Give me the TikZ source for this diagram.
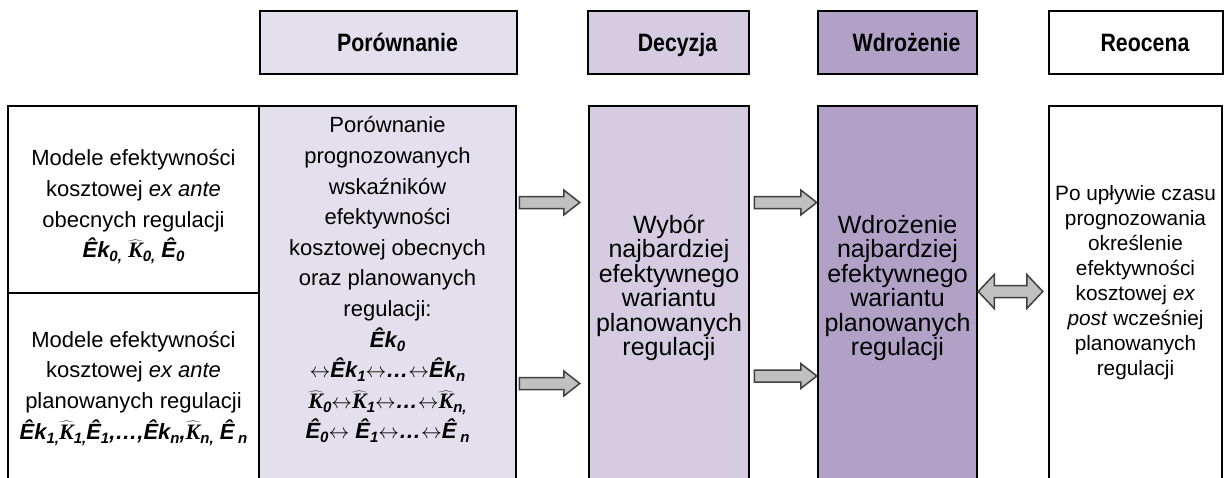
\documentclass[tikz,border=0pt]{standalone}
\usepackage{graphicx}
\usepackage{fontspec}
\setmainfont{Liberation Sans}
\newfontfamily\kfont{Liberation Serif}
\usetikzlibrary{calc}

\definecolor{porfill}{HTML}{E4DFEC}
\definecolor{decfill}{HTML}{D5CCE1}
\definecolor{wdrfill}{HTML}{B2A1C7}
\definecolor{arrowfill}{HTML}{C0C0C0}
\definecolor{arrowline}{HTML}{404040}

% fonts
\newcommand\headfont{\fontsize{21.3}{24}\selectfont\bfseries}
\newcommand\htext[1]{\hspace*{18pt}\scalebox{1}[1.18]{\vphantom{Ďy}#1}}
% a strut of 1em opens every text block, so that its north edge lies 1em above the first baseline
\newcommand\firstline{\rule{0pt}{1em}}
% symbols of the indicators
\newcommand\bi[1]{{\bfseries\itshape #1}}
\newcommand\sub[1]{\raisebox{-0.35ex}{\fontsize{15}{15}\selectfont\bfseries\itshape #1}}
\newcommand\Kh{\ensuremath{\widehat{\hbox{\kfont\bfseries\itshape K}}}}
\newcommand\lr{\ensuremath{\leftrightarrow}}

% wide block arrows between two points on one row
\newcommand\fatarrow[2]{%
  \draw[fat] let \p1=(#1), \p2=(#2) in
    (\x1,\y1+6pt) -- (\x2-16pt,\y1+6pt) -- (\x2-16pt,\y1+12.5pt) -- (\x2,\y1)
    -- (\x2-16pt,\y1-12.5pt) -- (\x2-16pt,\y1-6pt) -- (\x1,\y1-6pt) -- cycle;}
\newcommand\fatdarrow[2]{%
  \draw[fat] let \p1=(#1), \p2=(#2) in
    (\x1,\y1) -- (\x1+16pt,\y1+17pt) -- (\x1+16pt,\y1+6pt) -- (\x2-16pt,\y1+6pt)
    -- (\x2-16pt,\y1+17pt) -- (\x2,\y1) -- (\x2-16pt,\y1-17pt) -- (\x2-16pt,\y1-6pt)
    -- (\x1+16pt,\y1-6pt) -- (\x1+16pt,\y1-17pt) -- cycle;}

\tikzset{
  box/.style={draw=black, line width=2.5pt, inner sep=0pt, rectangle},
  head/.style={box, minimum height=63pt, font=\headfont},
  body/.style={align=center, inner sep=0pt, anchor=north},
  wide text/.style={body, font=\fontsize{22}{30.6}\selectfont},
  stage text/.style={body, font=\fontsize{25}{24.5}\selectfont},
  final text/.style={body, font=\fontsize{20.8}{25}\selectfont},
  fat/.style={draw=arrowline, fill=arrowfill, line width=1.5pt, line join=miter},
}

\begin{document}
\begin{tikzpicture}[x=1pt, y=-1pt]
\useasboundingbox (0,0) rectangle (1229,477);
\clip (0,0) rectangle (1229,477);

% stage headers
\node[head, fill=porfill, minimum width=257pt] (hpor) at (388.5,42.5) {\htext{Porównanie}};
\node[head, fill=decfill, minimum width=161pt] (hdec) at (668.5,42.5) {\htext{Decyzja}};
\node[head, fill=wdrfill, minimum width=159pt] (hwdr) at (897.5,42.5) {\htext{Wdrożenie}};
\node[head, fill=white,   minimum width=174pt] (hreo) at (1136,42.5) {\htext{Reocena}};

% main columns (open at the bottom)
\node[box, minimum width=251pt, minimum height=187pt] (mtop) at (133.5,199.5) {};
\node[box, minimum width=251pt, minimum height=197pt] (mbot) at (133.5,391.5) {};
\node[box, fill=porfill, minimum width=257pt, minimum height=384pt] (por) at (387.5,298) {};
\node[box, fill=decfill, minimum width=160pt, minimum height=384pt] (dec) at (669,298) {};
\node[box, fill=wdrfill, minimum width=159pt, minimum height=384pt] (wdr) at (897.5,298) {};
\node[box, fill=white,   minimum width=173pt, minimum height=384pt] (reo) at (1135.5,298) {};

% texts
\node[wide text] (ttop) at (133.5,143.7) {\firstline Modele efektywności\\kosztowej \textit{ex ante}\\obecnych regulacji\\
  \bi{Êk}\sub{0,} \Kh\sub{0,} \bi{Ê}\sub{0}};
\node[wide text] (tbot) at (133.5,325) {\firstline Modele efektywności\\kosztowej \textit{ex ante}\\planowanych regulacji\\
  \bi{Êk}\sub{1,}\Kh\sub{1,}\bi{Ê}\sub{1}\bi{,…,Êk}\sub{n}\bi{,}\Kh\sub{n,} \bi{Ê}\,\sub{n}};
\node[wide text] (tpor) at (387.5,110.7) {\firstline Porównanie\\prognozowanych\\wskaźników\\efektywności\\
  kosztowej obecnych\\oraz planowanych\\regulacji:\\
  \bi{Êk}\sub{0}\\
  \lr\bi{Êk}\sub{1}\lr\bi{…}\lr\bi{Êk}\sub{n}\\
  \Kh\sub{0}\lr\Kh\sub{1}\lr\bi{…}\lr\Kh\sub{n,}\\
  \bi{Ê}\sub{0}\lr{} \bi{Ê}\sub{1}\lr\bi{…}\lr\bi{Ê}\,\sub{n}};
\node[stage text] (tdec) at (669,208) {\firstline Wybór\\najbardziej\\efektywnego\\wariantu\\planowanych\\regulacji};
\node[stage text] (twdr) at (897.5,208) {\firstline Wdrożenie\\najbardziej\\efektywnego\\wariantu\\planowanych\\regulacji};
\node[final text] (treo) at (1135.5,179) {\firstline Po upływie czasu\\prognozowania\\określenie\\efektywności\\
  kosztowej \textit{ex}\\\textit{post} wcześniej\\planowanych\\regulacji};

% rows of the connectors
\coordinate (rowA) at (0,202.5);
\coordinate (rowB) at (0,383.5);
\coordinate (rowC) at (0,376);
\coordinate (rowD) at (0,291.5);

\fatarrow{$(por.east|-rowA)+(2,0)$}{$(dec.west|-rowA)+(-8,0)$}
\fatarrow{$(por.east|-rowB)+(2,0)$}{$(dec.west|-rowB)+(-8,0)$}
\fatarrow{$(dec.east|-rowA)+(4,0)$}{$(wdr.west|-rowA)$}
\fatarrow{$(dec.east|-rowC)+(4,0)$}{$(wdr.west|-rowC)$}
\fatdarrow{$(wdr.east|-rowD)$}{$(reo.west|-rowD)+(-5,0)$}
\end{tikzpicture}
\end{document}
